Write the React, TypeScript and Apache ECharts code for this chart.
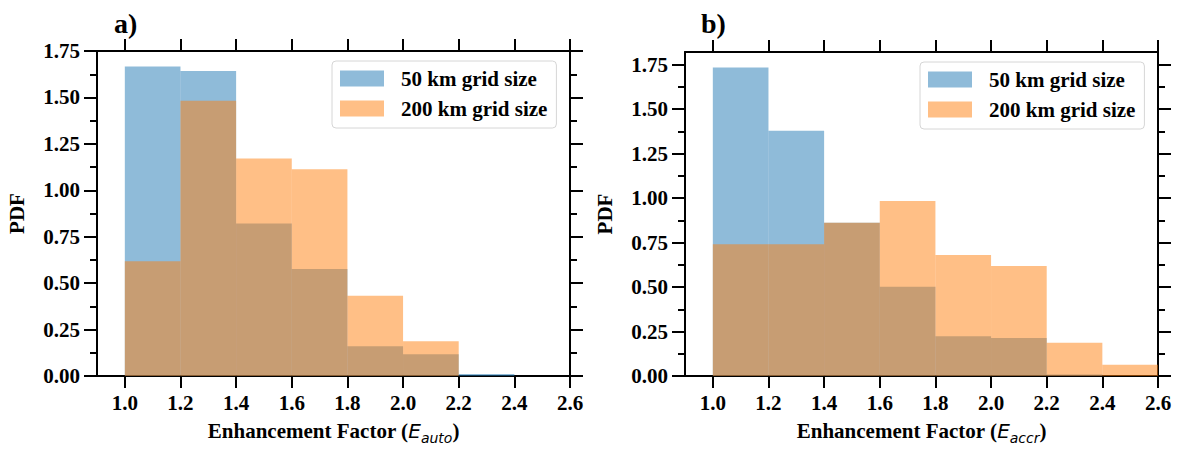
import React, { useEffect, useRef } from "react";
import * as echarts from "echarts";

// Histogram bin edges shared by both panels
const binEdges = [1.0, 1.2, 1.4, 1.6, 1.8, 2.0, 2.2, 2.4, 2.6];

// PDF per bin, panel a (autoconversion enhancement factor)
const autoFine = [1.667, 1.642, 0.821, 0.576, 0.16, 0.117, 0.011, 0];
const autoCoarse = [0.618, 1.482, 1.171, 1.114, 0.432, 0.187, 0, 0];

// PDF per bin, panel b (accretion enhancement factor)
const accrFine = [1.735, 1.379, 0.861, 0.502, 0.224, 0.213, 0.008, 0];
const accrCoarse = [0.741, 0.741, 0.861, 0.984, 0.68, 0.619, 0.187, 0.063];

const seriesNames = ["50 km grid size", "200 km grid size"];
const xTicks = [1.0, 1.2, 1.4, 1.6, 1.8, 2.0, 2.2, 2.4, 2.6];
const yTicks = [0, 0.25, 0.5, 0.75, 1.0, 1.25, 1.5, 1.75];
const yMinorTicks = [0.125, 0.375, 0.625, 0.875, 1.125, 1.375, 1.625];

const FONT = '"Liberation Serif", "Times New Roman", serif';
const BLUE = "rgba(31,119,180,0.5)";
const ORANGE = "rgba(255,127,14,0.5)";

const grids = [
  { left: 97, top: 51, width: 473, height: 328 },
  { left: 685, top: 52, width: 473, height: 328.5 },
];

const toBins = (values: number[]) =>
  values
    .map((v, i) => [binEdges[i], binEdges[i + 1], v])
    .filter((d) => d[2] > 0);

const renderBin = (_params: any, api: any) => {
  const p0 = api.coord([api.value(0), 0]);
  const p1 = api.coord([api.value(1), api.value(2)]);
  return {
    type: "rect",
    shape: { x: p0[0], y: p1[1], width: p1[0] - p0[0], height: p0[1] - p1[1] },
    style: api.style(),
  };
};

const lineStyle = { color: "#000", width: 2 };
const labelFont = { fontFamily: FONT, fontWeight: "bold" as const, color: "#000" };

function buildPanel(g: number, fine: number[], coarse: number[], sub: string) {
  const yMax = Math.max(...fine, ...coarse) * 1.05;
  const xBase = {
    type: "value",
    gridIndex: g,
    min: 0.9,
    max: 2.6,
    splitLine: { show: false },
    axisLine: { show: true, onZero: false, lineStyle },
  };
  const yBase = {
    type: "value",
    gridIndex: g,
    min: 0,
    max: yMax,
    splitLine: { show: false },
  };
  const xAxes = [
    {
      ...xBase,
      position: "bottom",
      axisTick: { show: true, inside: false, length: 12, lineStyle, customValues: xTicks },
      axisLabel: {
        show: true,
        customValues: xTicks,
        formatter: (v: number) => v.toFixed(1),
        margin: 16,
        fontSize: 21,
        ...labelFont,
      },
      name: `{b|Enhancement Factor (}{i|E}{s|${sub}}{b|)}`,
      nameLocation: "middle",
      nameGap: 41,
      nameTextStyle: {
        rich: {
          b: { ...labelFont, fontSize: 21, lineHeight: 28, verticalAlign: "middle" },
          i: {
            fontFamily: "DejaVu Sans",
            fontStyle: "italic",
            fontSize: 20,
            color: "#000",
            lineHeight: 28,
            verticalAlign: "middle",
          },
          s: {
            fontFamily: "DejaVu Sans",
            fontStyle: "italic",
            fontSize: 14,
            color: "#000",
            lineHeight: 28,
            verticalAlign: "bottom",
          },
        },
      },
    },
    {
      ...xBase,
      position: "top",
      axisTick: { show: true, inside: false, length: 12, lineStyle, customValues: xTicks },
      axisLabel: { show: false },
    },
  ];
  const yAxes = [
    {
      ...yBase,
      position: "left",
      axisLine: { show: true, onZero: false, lineStyle },
      axisTick: { show: true, inside: false, length: 13, lineStyle, customValues: yTicks },
      axisLabel: {
        show: true,
        customValues: yTicks,
        formatter: (v: number) => v.toFixed(2),
        margin: 17,
        fontSize: 21,
        ...labelFont,
      },
      name: "PDF",
      nameLocation: "middle",
      nameRotate: 90,
      nameGap: 70,
      nameTextStyle: { ...labelFont, fontSize: 21 },
    },
    {
      ...yBase,
      position: "left",
      axisLine: { show: false },
      axisTick: { show: true, inside: false, length: 7, lineStyle, customValues: yMinorTicks },
      axisLabel: { show: false },
    },
    {
      ...yBase,
      position: "right",
      axisLine: { show: true, onZero: false, lineStyle },
      axisTick: { show: true, inside: false, length: 13, lineStyle, customValues: yTicks },
      axisLabel: { show: false },
    },
    {
      ...yBase,
      position: "right",
      axisLine: { show: false },
      axisTick: { show: true, inside: false, length: 7, lineStyle, customValues: yMinorTicks },
      axisLabel: { show: false },
    },
  ];
  const series = [
    { values: fine, color: BLUE, name: seriesNames[0] },
    { values: coarse, color: ORANGE, name: seriesNames[1] },
  ].map((s) => ({
    type: "custom",
    name: s.name,
    xAxisIndex: g * 2,
    yAxisIndex: g * 4,
    renderItem: renderBin,
    itemStyle: { color: s.color },
    encode: { x: [0, 1], y: 2 },
    data: toBins(s.values),
  }));
  return { xAxes, yAxes, series };
}

export default function App() {
  const ref = useRef<HTMLDivElement>(null);

  useEffect(() => {
    if (!ref.current) return;
    const chart = echarts.init(ref.current, undefined, { renderer: "svg" });
    const a = buildPanel(0, autoFine, autoCoarse, "auto");
    const b = buildPanel(1, accrFine, accrCoarse, "accr");

    const legendBase = {
      orient: "vertical",
      itemWidth: 44,
      itemHeight: 16,
      itemGap: 9,
      padding: [7, 9, 9, 8],
      icon: "rect",
      selectedMode: false,
      borderColor: "#d6d6d6",
      borderWidth: 1,
      borderRadius: 4,
      backgroundColor: "rgba(255,255,255,0.8)",
      textStyle: { ...labelFont, fontSize: 21, padding: [0, 0, 0, 12] },
      data: seriesNames,
    };
    const titleStyle = { ...labelFont, fontSize: 28 };

    chart.setOption({
      animation: false,
      grid: grids.map((gr) => ({ ...gr, containLabel: false })),
      xAxis: [...a.xAxes, ...b.xAxes],
      yAxis: [...a.yAxes, ...b.yAxes],
      series: [...a.series, ...b.series],
      legend: [
        { ...legendBase, left: 332, top: 61 },
        { ...legendBase, left: 920, top: 62 },
      ],
      title: [
        { text: "a)", left: 109, top: 4, textStyle: titleStyle },
        { text: "b)", left: 696, top: 4, textStyle: titleStyle },
      ],
    });
    return () => chart.dispose();
  }, []);

  return (
    <div
      ref={ref}
      style={{ position: "absolute", left: 0, top: 0, width: 1177, height: 450, background: "#fff" }}
    />
  );
}
